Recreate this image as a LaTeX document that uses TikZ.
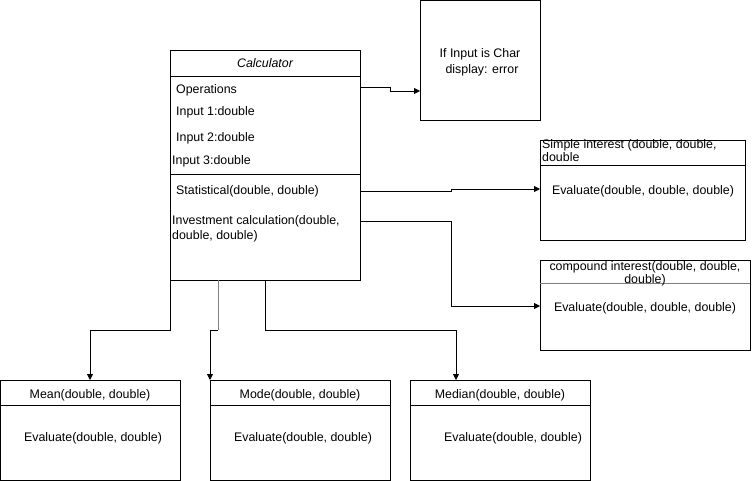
\documentclass[tikz,border=0pt]{standalone}
\usepackage{fontspec}
\setmainfont{Liberation Sans}
\usetikzlibrary{arrows.meta}
\newcommand\fs{\fontsize{12.4}{14}\selectfont}
\tikzset{
  box/.style={draw, line width=0.8pt, inner sep=0pt, outer sep=0pt, anchor=north west},
  txt/.style={font=\fs, inner sep=0pt, anchor=base},
  ltxt/.style={font=\fs, inner sep=0pt, anchor=base west},
  sep/.style={line width=0.8pt},
  arr/.style={-{Triangle[length=6pt,width=6pt,color=black]}, line width=0.8pt},
}
\begin{document}
\begin{tikzpicture}[x=1pt,y=-1pt]
\useasboundingbox (0,0) rectangle (752,481);
\fill[white] (0,0) rectangle (752,481);

% Calculator
\node[box, minimum width=190pt, minimum height=230pt] (calc) at (170,50) {};
\draw[sep] (170,76) -- (360,76);
\draw[sep] (170,174) -- (360,174);
\node[txt, font=\fs\itshape] (ct) at (265,68) {Calculator};
\node[ltxt] (op) at (176,94) {Operations};
\node[ltxt] (i1) at (176,116) {Input 1:double};
\node[ltxt] (i2) at (176,142) {Input 2:double};
\node[ltxt] (i3) at (172,165) {Input 3:double};
\node[ltxt] (st) at (176,195) {Statistical(double, double)};
\node[ltxt] (iv1) at (172,224) {Investment calculation(double,};
\node[ltxt] (iv2) at (172,239) {double, double)};

% Note
\node[box, minimum width=120pt, minimum height=120pt] (note) at (420,0) {};
\node[txt] (n1) at (480,58) {If Input is Char};
\node[txt] (n2) at (482,74) {display: error};

% Simple interest
\node[box, minimum width=205pt, minimum height=100pt] (si) at (540,140) {};
\draw[sep] (540,165) -- (745,165);
\node[ltxt] (sit1) at (542,149) {Simple interest (double, double,};
\node[ltxt] (sit2) at (542,162) {double};
\node[txt] (sie) at (643,195) {Evaluate(double, double, double)};

% Compound interest
\node[box, minimum width=210pt, minimum height=90pt] (ci) at (540,260) {};
\draw[sep, gray] (540,283) -- (750,283);
\node[txt] (cit1) at (645,270) {compound interest(double, double,};
\node[txt] (cit2) at (645,283) {double)};
\node[txt] (cie) at (645,311) {Evaluate(double, double, double)};

% Bottom boxes
\node[box, minimum width=180pt, minimum height=100pt] (mean) at (0,380) {};
\draw[sep] (0,405) -- (180,405);
\node[txt] (mt) at (90,398) {Mean(double, double)};
\node[txt] (me) at (93,441) {Evaluate(double, double)};

\node[box, minimum width=180pt, minimum height=100pt] (mode) at (210,380) {};
\draw[sep] (210,405) -- (390,405);
\node[txt] (mot) at (300,398) {Mode(double, double)};
\node[txt] (moe) at (303,441) {Evaluate(double, double)};

\node[box, minimum width=180pt, minimum height=100pt] (median) at (410,380) {};
\draw[sep] (410,405) -- (590,405);
\node[txt] (mdt) at (500,398) {Median(double, double)};
\node[txt] (mde) at (513,441) {Evaluate(double, double)};

% connectors
\coordinate (a1) at (360,87);
\coordinate (a2) at (360,191);
\coordinate (a3) at (360,221);
\draw[arr] (a1) -- (390,87) -- (390,91) -- (note.west |- 0,91);
\draw[arr] (a2) -- (451,191) -- (451,189) -- (si.west |- 0,189);
\draw[arr] (a3) -- (451,221) -- (451,306) -- (ci.west |- 0,306);

\coordinate (b1) at (170,280);
\coordinate (b2) at (218,280);
\coordinate (b3) at (265,280);
\draw[arr] (b1) -- (170,330) -- (90,330) -- (mean.north -| 90,0);
\draw[line width=0.8pt, gray] (b2) -- (218,330);
\draw[arr] (218,330) -- (210,330) -- (mode.north west);
\draw[arr] (b3) -- (265,330) -- (456,330) -- (median.north -| 456,0);
\end{tikzpicture}
\end{document}
